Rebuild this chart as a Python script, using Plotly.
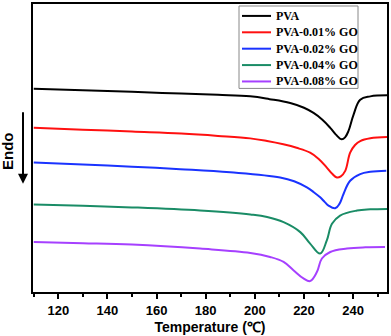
import plotly.graph_objects as go

# DSC curves (heat flow in arbitrary units, offset per sample)
temp_pva = [110, 130, 150, 170, 185, 198.1, 206, 214.4, 220, 223.9, 227.5, 230.7, 233, 235.4, 236.8, 238.1, 240.2, 242.9, 247, 253.8]
hf_pva = [204.7, 203.2, 201.6, 199.8, 198.5, 197, 194.2, 190.3, 185.5, 180.3, 173.5, 165.3, 158.5, 153.7, 156, 162, 178.7, 193.7, 197, 198]

temp_01 = [110, 130, 150, 170, 185, 198.1, 205, 211.6, 217, 222.5, 226, 229.3, 231.5, 233.4, 235, 236.8, 238.8, 240.8, 242.9, 247, 253.8]
hf_01 = [165.3, 163.5, 161.5, 159.5, 157.2, 154.7, 152, 148.7, 145.2, 140.3, 134, 125.3, 119, 115.3, 116.5, 122, 140.3, 148, 152, 154.8, 156]

temp_02 = [110, 130, 150, 169.6, 190, 210.3, 216, 221.2, 224, 226.6, 228.5, 230, 232.7, 234.5, 236.1, 238.8, 242.9, 247, 253.5]
hf_02 = [130.3, 128.3, 126.2, 123.7, 120.5, 115.3, 111.5, 105.3, 100.5, 95.3, 90.5, 87, 84.3, 89, 98.7, 112, 118.7, 121, 122]

temp_04 = [110, 130, 150, 177.7, 198.2, 205, 211.7, 218.5, 222.5, 226.6, 229.3, 231.4, 234.7, 241.6, 247, 253.8]
hf_04 = [88, 86.8, 85.2, 82, 78, 75.5, 70.3, 60.3, 48.7, 38.7, 52, 68.7, 77, 82, 83.2, 83.7]

temp_08 = [110, 130, 150, 177.7, 198.2, 206.2, 211.7, 215.7, 219.8, 222.5, 225.3, 227.3, 230.7, 237.5, 245, 253]
hf_08 = [50.3, 49.2, 47.8, 43.7, 39.3, 35.3, 30.3, 22, 13.7, 11, 20.3, 33.7, 40.3, 43.7, 45, 45.3]

names = ["PVA", "PVA-0.01% GO", "PVA-0.02% GO", "PVA-0.04% GO", "PVA-0.08% GO"]
colors = ["#000000", "#ff1010", "#1a33ff", "#1a8c66", "#a640ff"]
series = [(temp_pva, hf_pva), (temp_01, hf_01), (temp_02, hf_02), (temp_04, hf_04), (temp_08, hf_08)]

fig = go.Figure()
for name, color, (t, h) in zip(names, colors, series):
    fig.add_trace(
        go.Scatter(
            x=t,
            y=h,
            name=name,
            mode="lines",
            line=dict(color=color, width=2, shape="spline", smoothing=1.1),
            showlegend=False,
        )
    )

# plot area is 354 x 290 px; helpers to place layout items in paper coords
def px(x):
    return (x - 33) / 354


def py(y):
    return (292 - y) / 290


# legend box drawn by hand (plotly's rows are too tall for this one)
fig.add_shape(type="rect", xref="paper", yref="paper",
              x0=px(239), x1=px(358), y0=py(87), y1=py(4),
              line=dict(color="#888888", width=1), fillcolor="white", layer="above")
for i, (name, color) in enumerate(zip(names, colors)):
    row_y = 14 + i * 16.5
    fig.add_shape(type="line", xref="paper", yref="paper",
                  x0=px(242), x1=px(271), y0=py(row_y), y1=py(row_y),
                  line=dict(color=color, width=2), layer="above")
    fig.add_annotation(xref="paper", yref="paper", x=px(274), y=py(row_y),
                       xanchor="left", yanchor="middle", showarrow=False, text=name,
                       font=dict(family="Liberation Serif", size=12, color="black", weight="bold"))

axis_font = dict(family="Liberation Sans", size=13, color="black", weight="bold")

fig.update_layout(
    width=391,
    height=336,
    margin=dict(l=33, r=4, t=2, b=44),
    plot_bgcolor="white",
    paper_bgcolor="white",
    showlegend=False,
    xaxis=dict(
        range=[109.7, 253.8],
        tickvals=[120, 140, 160, 180, 200, 220, 240],
        ticks="outside",
        ticklen=5,
        tickwidth=2,
        tickcolor="black",
        tickfont=axis_font,
        minor=dict(tickvals=[110, 130, 150, 170, 190, 210, 230, 250], ticks="outside", ticklen=3, tickwidth=2, tickcolor="black"),
        showline=True,
        linecolor="black",
        linewidth=2,
        mirror=True,
        showgrid=False,
        zeroline=False,
        title=dict(text="Temperature (℃)", font=dict(family="Liberation Sans", size=14, color="black", weight="bold"), standoff=6),
    ),
    yaxis=dict(
        range=[0, 290],
        showticklabels=False,
        ticks="",
        showline=True,
        linecolor="black",
        linewidth=2,
        mirror=True,
        showgrid=False,
        zeroline=False,
    ),
)

# "Endo" label with downward arrow
fig.add_annotation(
    xref="paper", yref="paper",
    x=px(8), y=py(150), xanchor="center", yanchor="middle",
    text="Endo", textangle=-90, showarrow=False,
    font=dict(family="Liberation Sans", size=15, color="black", weight="bold"),
)
fig.add_annotation(
    xref="paper", yref="paper",
    x=px(23), y=py(183),
    ax=0, ay=-73, axref="pixel", ayref="pixel",
    text="", showarrow=True, arrowhead=2, arrowsize=1, arrowwidth=2, arrowcolor="black",
)

fig.write_html("out.html", config={"displayModeBar": False},
               post_script="document.body.style.margin='0';")
